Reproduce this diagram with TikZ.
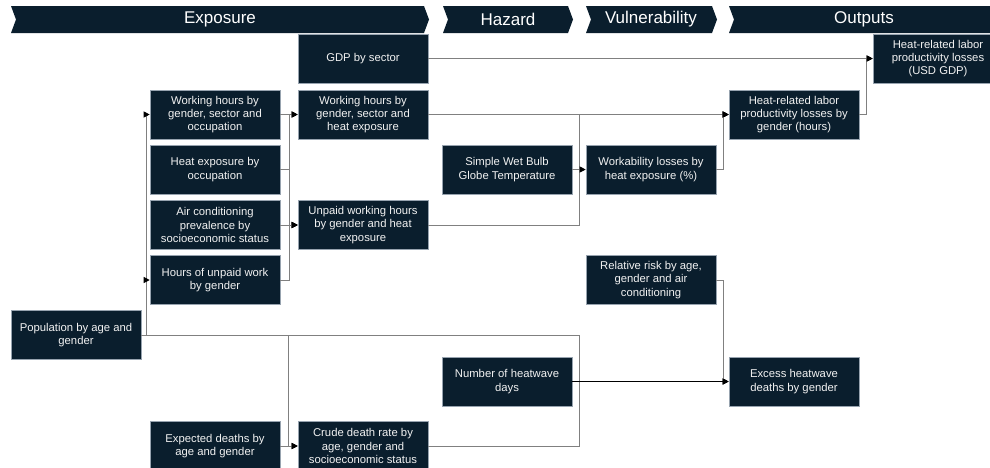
\documentclass[tikz,border=0pt]{standalone}
\usepackage{fontspec}
\setmainfont{Liberation Sans}
\usetikzlibrary{arrows.meta}
\definecolor{navy}{HTML}{0A1E2D}
\definecolor{boxline}{HTML}{97A3AF}
\definecolor{txt}{HTML}{F2F2F2}
\definecolor{conncol}{HTML}{808080}
\tikzset{
  box/.style={fill=navy, draw=boxline, line width=0.6pt, text=txt, align=center,
    minimum width=130pt, minimum height=49pt, inner sep=2pt,
    font=\fontsize{11.3}{13.3}\selectfont},
  hdr/.style={fill=navy},
  hdrtext/.style={text=white, font=\fontsize{17}{20}\selectfont, inner sep=0pt},
  conn/.style={draw=conncol, line width=0.9pt},
  arr/.style={conn, -{Triangle[length=6pt,width=6pt]}, arrows={-{Triangle[length=6pt,width=6pt,color=black]}}},
  darr/.style={draw=black, line width=1.2pt, -{Triangle[length=6pt,width=6pt]}},
}
\begin{document}
\begin{tikzpicture}[x=1pt,y=-1pt]
\useasboundingbox (0,0) rectangle (990,467);
\fill[white] (0,0) rectangle (990,467);
% header chevrons
\fill[hdr] (11,6) -- (424,6) -- (429,19.5) -- (424,33) -- (11,33) -- (16,19.5) -- cycle;
\node[hdrtext] (hexp) at (220,19.5) {Exposure};
\fill[hdr] (443,6) -- (568,6) -- (573,19.5) -- (568,33) -- (443,33) -- (448,19.5) -- cycle;
\node[hdrtext] (hhaz) at (508,19.5) {Hazard};
\fill[hdr] (586,6) -- (712,6) -- (717,19.5) -- (712,33) -- (586,33) -- (591,19.5) -- cycle;
\node[hdrtext] (hvul) at (651,19.5) {Vulnerability};
\fill[hdr] (729,6) -- (1000,6) -- (1005,19.5) -- (1000,33) -- (729,33) -- (734,19.5) -- cycle;
\node[hdrtext] (hout) at (864,19.5) {Outputs};
% nodes
\node[box] (gdp) at (363,58.5) {GDP by sector};
\node[box] (who) at (215,114.5) {Working hours by\\gender, sector and\\occupation};
\node[box] (whe) at (363,114.5) {Working hours by\\gender, sector and\\heat exposure};
\node[box] (heo) at (215,169.5) {Heat exposure by\\occupation};
\node[box] (ac) at (215,225) {Air conditioning\\prevalence by\\socioeconomic status};
\node[box] (uwh) at (363,225) {Unpaid working hours\\by gender and heat\\exposure};
\node[box] (huw) at (215,280) {Hours of unpaid work\\by gender};
\node[box] (pop) at (76,335) {Population by age and\\gender};
\node[box] (wbgt) at (507,169.5) {Simple Wet Bulb\\Globe Temperature};
\node[box] (wl) at (651,169.5) {Workability losses by\\heat exposure (\%)};
\node[box] (hrh) at (794,114.5) {Heat-related labor\\productivity losses by\\gender (hours)};
\node[box] (usd) at (938,58.5) {Heat-related labor\\productivity losses\\(USD GDP)};
\node[box] (rr) at (651,280) {Relative risk by age,\\gender and air\\conditioning};
\node[box] (nhd) at (507,381.5) {Number of heatwave\\days};
\node[box] (exd) at (794,381.5) {Excess heatwave\\deaths by gender};
\node[box] (ed) at (215,446) {Expected deaths by\\age and gender};
\node[box] (cdr) at (363,446) {Crude death rate by\\age, gender and\\socioeconomic status};
\coordinate (mx) at (579.5,381.5);
% connectors
\draw[arr] (pop.east) -- ++(5,0) |- (who.west);
\draw[arr] (pop.east) -- ++(5,0) |- (huw.west);
\draw[conn] (pop.east) -| (mx);
\draw[arr] (pop.east) -- ++(147.5,0) |- (cdr.west);
\draw[arr] (ed.east) -- (cdr.west);
\draw[conn] (cdr.east) -| (mx);
\draw[darr] (nhd.east) -- (exd.west);
\draw[arr] (rr.east) -- ++(7,0) |- (exd.west);
\draw[arr] (who.east) -- (whe.west);
\draw[arr] (heo.east) -- ++(9,0) |- (whe.west);
\draw[arr] (heo.east) -- ++(9,0) |- (uwh.west);
\draw[arr] (huw.east) -- ++(9,0) |- (uwh.west);
\draw[arr] (ac.east) -- (uwh.west);
\draw[arr] (gdp.east) -- (usd.west);
\draw[arr] (whe.east) -- (hrh.west);
\draw[arr] (uwh.east) -- ++(151.5,0) |- (hrh.west);
\draw[arr] (wbgt.east) -- (wl.west);
\draw[arr] (wl.east) -- ++(7,0) |- (hrh.west);
\draw[arr] (hrh.east) -- ++(7,0) |- (usd.west);
\end{tikzpicture}
\end{document}
